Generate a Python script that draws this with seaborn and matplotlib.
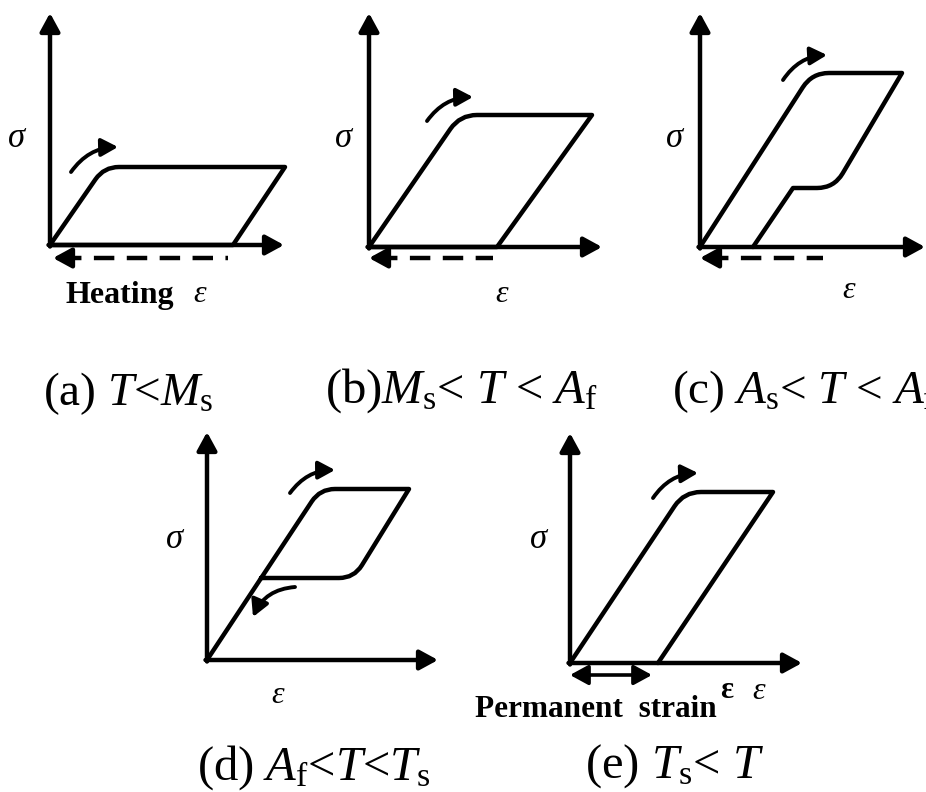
import numpy as np
import matplotlib
matplotlib.use("Agg")
import matplotlib.pyplot as plt
from matplotlib.path import Path
from matplotlib.patches import PathPatch, ArrowStyle
import seaborn as sns

sns.set_theme(style="white")
plt.rcParams["font.family"] = ["Liberation Serif", "DejaVu Sans"]
plt.rcParams["mathtext.fontset"] = "custom"
plt.rcParams["mathtext.rm"] = "Liberation Serif"
plt.rcParams["mathtext.it"] = "Liberation Serif:italic"
plt.rcParams["mathtext.bf"] = "Liberation Serif:bold"

# ---- schematic stress-strain loops (strain, stress) per temperature regime ----
strain_a = [0, 54, 235, 183, 0]
stress_a = [0, 78, 78, 0, 0]
strain_b = [0, 91, 223, 128, 0]
stress_b = [0, 132, 132, 0, 0]
strain_c = [0, 112, 202, 134, 93, 53]
stress_c = [0, 174, 174, 59, 59, 0]
strain_d = [0, 113, 202, 147, 54]
stress_d = [0, 171, 171, 82, 82]
strain_e = [0, 114, 203, 88]
stress_e = [0, 171, 171, 0]

# recovered strain on heating (a-c) and permanent strain (e)
recovered_a = [178, 3]
recovered_b = [124, 0]
recovered_c = [123, 0]
permanent_e = [0, 82]

captions = [
    r"(a) $T$<$M_\mathrm{s}$",
    r"(b)$M_\mathrm{s}$< $T$ < $A_\mathrm{f}$",
    r"(c) $A_\mathrm{s}$< $T$ < $A_\mathrm{f}$",
    r"(d) $A_\mathrm{f}$<$T$<$T_\mathrm{s}$",
    r"(e) $T_\mathrm{s}$< $T$",
]

W, H = 926, 792
fig = plt.figure(figsize=(W / 100, H / 100), dpi=100)
XMIN, XMAX, YMIN, YMAX = -90, 270, -80, 250
LW = 3.2


def panel_axes(ox, oy):
    ax = fig.add_axes([(ox + XMIN) / W, (H - oy + YMIN) / H,
                       (XMAX - XMIN) / W, (YMAX - YMIN) / H])
    ax.set_xlim(XMIN, XMAX)
    ax.set_ylim(YMIN, YMAX)
    ax.axis("off")
    ax.patch.set_alpha(0)
    return ax


def loop_path(xs, ys, knees, r):
    verts, codes = [(xs[0], ys[0])], [Path.MOVETO]
    for i in range(1, len(xs)):
        p = np.array([xs[i], ys[i]], float)
        if i in knees:
            a = np.array([xs[i - 1], ys[i - 1]], float)
            b = np.array([xs[i + 1], ys[i + 1]], float)
            p_in = p + (a - p) / np.linalg.norm(a - p) * r
            p_out = p + (b - p) / np.linalg.norm(b - p) * r
            verts += [tuple(p_in), tuple(p), tuple(p_out)]
            codes += [Path.LINETO, Path.CURVE3, Path.CURVE3]
        else:
            verts.append(tuple(p))
            codes.append(Path.LINETO)
    return Path(verts, codes)


def draw_loop(ax, xs, ys, knees, r=17):
    ax.add_patch(PathPatch(loop_path(xs, ys, knees, r), fill=False,
                           lw=LW, edgecolor="black", joinstyle="round",
                           capstyle="round"))


HEAD = ArrowStyle("-|>", head_length=0.55, head_width=0.3)
SMALL_HEAD = ArrowStyle("-|>", head_length=0.5, head_width=0.27)
DOUBLE = ArrowStyle("<|-|>", head_length=0.55, head_width=0.3)


def arrow(ax, start, tip, lw=LW, rad=0.0, style=HEAD):
    ax.annotate("", xy=tip, xytext=start,
                arrowprops=dict(arrowstyle=style, color="black", lw=lw,
                                shrinkA=0, shrinkB=0, mutation_scale=20,
                                connectionstyle=f"arc3,rad={rad}"))


def axes_arrows(ax, ytip, xtip):
    arrow(ax, (0, -1.5), (0, ytip))
    arrow(ax, (-1.5, 0), (xtip, 0))


def dashed_arrow(ax, xs, y):
    x_end, x_tip = xs
    sns.lineplot(x=[x_tip + 8, x_end], y=[y, y], ax=ax, color="black", lw=LW,
                 linestyle=(0, (4.6, 2.8)), sort=False, estimator=None)
    arrow(ax, (x_tip + 16, y), (x_tip, y))


def sigma(ax, x, y):
    ax.text(x, y, "σ", fontsize=25, style="italic", ha="center",
            va="baseline", color="black")


def eps(ax, x, y):
    ax.text(x, y, "ε", fontsize=23, style="italic", ha="center",
            va="baseline", color="black")


# (a) T < Ms
ax = panel_axes(50, 245)
axes_arrows(ax, 232, 234)
draw_loop(ax, strain_a, stress_a, [1], r=15)
arrow(ax, (21, 73), (68, 98), lw=2.8, rad=-0.25, style=SMALL_HEAD)
dashed_arrow(ax, recovered_a, -13)
sigma(ax, -33, 98)
ax.text(70, -58, "Heating", fontsize=23, weight="bold", ha="center",
        va="baseline", color="black")
eps(ax, 150, -57)

# (b) Ms < T < Af
ax = panel_axes(369, 247)
axes_arrows(ax, 234, 233)
draw_loop(ax, strain_b, stress_b, [1])
arrow(ax, (58, 126), (104, 150), lw=2.8, rad=-0.25, style=SMALL_HEAD)
dashed_arrow(ax, recovered_b, -11)
sigma(ax, -25, 100)
eps(ax, 133, -55)

# (c) As < T < Af
ax = panel_axes(700, 247)
axes_arrows(ax, 234, 225)
draw_loop(ax, strain_c, stress_c, [1, 3])
arrow(ax, (83, 167), (127, 192), lw=2.8, rad=-0.25, style=SMALL_HEAD)
dashed_arrow(ax, recovered_c, -11)
sigma(ax, -25, 100)
eps(ax, 149, -51)

# (d) Af < T < Ts
ax = panel_axes(207, 660)
axes_arrows(ax, 228, 231)
draw_loop(ax, strain_d, stress_d, [1, 3], r=15)
arrow(ax, (83, 167), (128, 190), lw=2.8, rad=-0.25, style=SMALL_HEAD)
arrow(ax, (88, 73), (46, 43), lw=2.8, rad=0.3, style=SMALL_HEAD)
sigma(ax, -32, 112)
eps(ax, 71, -43)

# (e) Ts < T
ax = panel_axes(570, 663)
axes_arrows(ax, 230, 232)
draw_loop(ax, strain_e, stress_e, [1])
arrow(ax, (83, 165), (128, 190), lw=2.8, rad=-0.25, style=SMALL_HEAD)
arrow(ax, (permanent_e[0], -12), (permanent_e[1], -12), lw=2.6, style=DOUBLE)
sigma(ax, -31, 115)
ax.text(26, -54, "Permanent  strain", fontsize=22.5, weight="bold",
        ha="center", va="baseline", color="black")
ax.text(157, -35, "ε", fontsize=22, weight="bold", ha="center",
        va="baseline", color="black")
eps(ax, 189, -36)

# captions under each row
caption_xy = [(43, 405), (325, 403), (672, 403), (197, 780), (585, 778)]
caption_size = [34, 35, 34, 35, 35]
for txt, (x, y), fs in zip(captions, caption_xy, caption_size):
    fig.text(x / W, 1 - y / H, txt, fontsize=fs, ha="left", va="baseline",
             color="black")

fig.savefig("out.png", dpi=100, facecolor="white")
